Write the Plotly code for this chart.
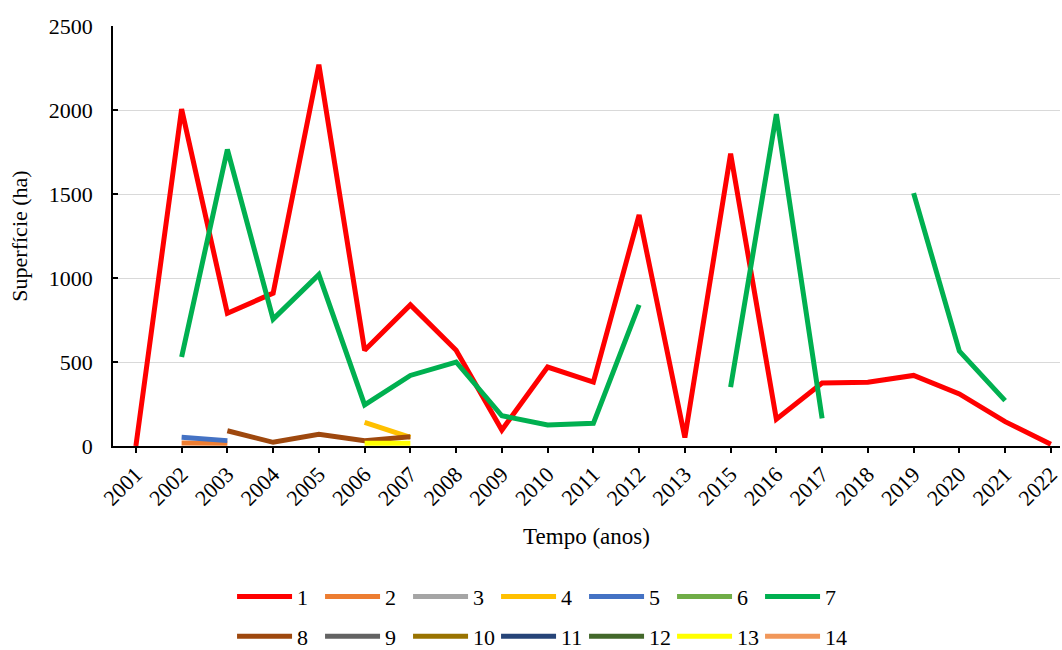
import plotly.graph_objects as go

years = ["2001","2002","2003","2004","2005","2006","2007","2008","2009","2010","2011",
         "2012","2013","2015","2016","2017","2018","2019","2020","2021","2022"]
N = None
s1  = [0, 2005, 790, 910, 2270, 570, 840, 570, 95, 470, 380, 1375, 50, 1740, 160, 375, 380, 420, 310, 145, 10]
s2  = [N, 18, 16, N, N, N, N, N, N, N, N, N, N, N, N, N, N, N, N, N, N]
s3  = [N]*21
s4  = [N, N, N, N, N, 141, 52, N, N, N, N, N, N, N, N, N, N, N, N, N, N]
s5  = [N, 52, 32, N, N, N, N, N, N, N, N, N, N, N, N, N, N, N, N, N, N]
s6  = [N]*21
s7  = [N, 530, 1765, 755, 1020, 245, 420, 500, 180, 125, 135, 840, N, 350, 1975, 165, N, 1505, 565, 270, N]
s8  = [N, N, 91, 22, 70, 32, 55, N, N, N, N, N, N, N, N, N, N, N, N, N, N]
s9  = [N]*21
s10 = [N]*21
s11 = [N]*21
s12 = [N]*21
s13 = [N, N, N, N, N, 16, 16, N, N, N, N, N, N, N, N, N, N, N, N, N, N]
s14 = [N]*21

series = [s1, s2, s3, s4, s5, s6, s7, s8, s9, s10, s11, s12, s13, s14]
names = [str(i) for i in range(1, 15)]
colors = ["#FF0000", "#ED7D31", "#A5A5A5", "#FFC000", "#4472C4", "#70AD47", "#00B050",
          "#9E480E", "#636363", "#997300", "#264478", "#43682B", "#FFFF00", "#F1975A"]

fig = go.Figure()
for i, (s, n, c) in enumerate(zip(series, names, colors)):
    fig.add_trace(go.Scatter(
        x=years, y=s, name=n, mode="lines",
        line=dict(color=c, width=5),
        connectgaps=False,
        legend="legend" if i < 7 else "legend2",
    ))

font = "Liberation Serif, Times New Roman, serif"
leg_common = dict(orientation="h", xref="container", yref="container",
                  x=0.2185, xanchor="left", yanchor="middle",
                  entrywidth=18, entrywidthmode="pixels", itemwidth=55,
                  font=dict(size=22), bgcolor="rgba(0,0,0,0)")
fig.update_layout(
    width=1062, height=650,
    margin=dict(l=113, r=0, t=26, b=204),
    paper_bgcolor="white", plot_bgcolor="white",
    font=dict(family=font, size=22, color="black"),
    xaxis=dict(
        type="category", range=[-0.5, 20.2],
        showline=True, linecolor="black", linewidth=1.5,
        ticks="outside", ticklen=5, tickcolor="black", tickwidth=1.5, tickangle=-45,
        showgrid=False,
        title=dict(text="Tempo (anos)", font=dict(size=23), standoff=18),
    ),
    yaxis=dict(
        range=[0, 2500], dtick=500,
        showline=True, linecolor="black", linewidth=1.5,
        showgrid=True, gridcolor="#D9D9D9", gridwidth=1,
        ticks="inside", ticklen=5, tickcolor="black", tickwidth=1.5,
        ticklabelstandoff=14,
        zeroline=False,
        title=dict(text="Superfície (ha)", font=dict(size=22), standoff=15),
    ),
    legend=dict(y=0.082, **leg_common),
    legend2=dict(y=0.021, **leg_common),
)

fig.write_html("out.html", config={"displayModeBar": False},
               post_script="document.body.style.margin='0px';")
